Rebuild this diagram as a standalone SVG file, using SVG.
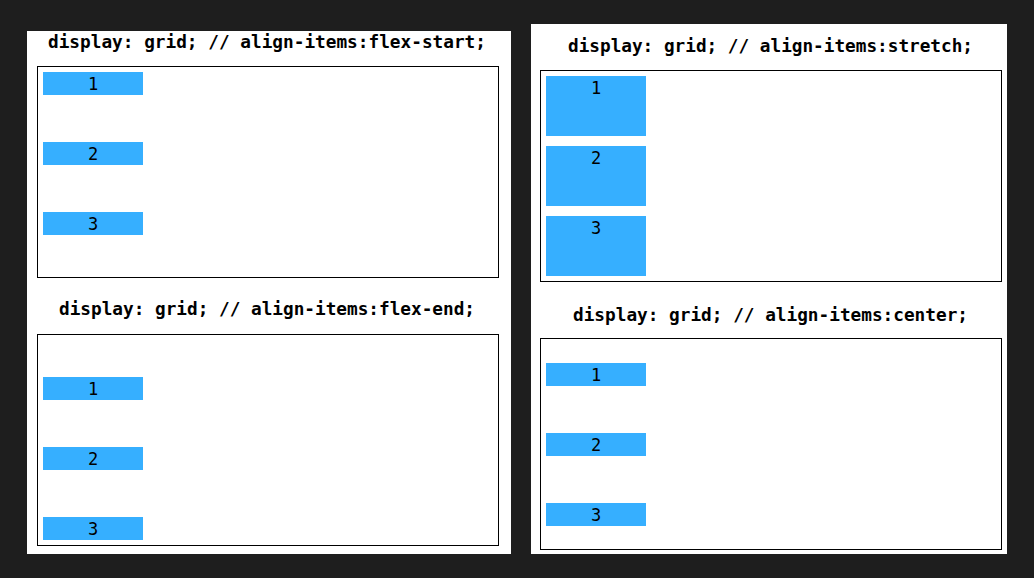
<svg xmlns="http://www.w3.org/2000/svg" width="1034" height="578" viewBox="0 0 1034 578">
<style>
.panel{fill:#ffffff}
.box{fill:#ffffff;stroke:#000000;stroke-width:1}
.item{fill:#36afff}
.title{font-family:"DejaVu Sans Mono","Liberation Mono",monospace;font-weight:bold;font-size:17.5px;fill:#000000;text-anchor:middle}
.num{font-family:"DejaVu Sans Mono","Liberation Mono",monospace;font-size:17px;fill:#000000;text-anchor:middle}
</style>
<rect x="0" y="0" width="1034" height="578" fill="#1e1e1e"/>
<rect class="panel" x="27" y="31" width="484" height="523"/>
<rect class="panel" x="531" y="24" width="476" height="530"/>

<g id="flex-start">
<text class="title" x="267" y="48" textLength="438" lengthAdjust="spacingAndGlyphs">display: grid; // align-items:flex-start;</text>
<rect class="box" x="37.5" y="66.5" width="461" height="211"/>
<rect class="item" x="43" y="72" width="100" height="23"/>
<text class="num" x="93" y="90">1</text>
<rect class="item" x="43" y="142" width="100" height="23"/>
<text class="num" x="93" y="160">2</text>
<rect class="item" x="43" y="212" width="100" height="23"/>
<text class="num" x="93" y="230">3</text>
</g>

<g id="flex-end">
<text class="title" x="267" y="315" textLength="416" lengthAdjust="spacingAndGlyphs">display: grid; // align-items:flex-end;</text>
<rect class="box" x="37.5" y="334.5" width="461" height="211"/>
<rect class="item" x="43" y="377" width="100" height="23"/>
<text class="num" x="93" y="395">1</text>
<rect class="item" x="43" y="447" width="100" height="23"/>
<text class="num" x="93" y="465">2</text>
<rect class="item" x="43" y="517" width="100" height="23"/>
<text class="num" x="93" y="535">3</text>
</g>

<g id="stretch">
<text class="title" x="770.5" y="52" textLength="405" lengthAdjust="spacingAndGlyphs">display: grid; // align-items:stretch;</text>
<rect class="box" x="540.5" y="70.5" width="461" height="211"/>
<rect class="item" x="546" y="76" width="100" height="60"/>
<text class="num" x="596" y="94">1</text>
<rect class="item" x="546" y="146" width="100" height="60"/>
<text class="num" x="596" y="164">2</text>
<rect class="item" x="546" y="216" width="100" height="60"/>
<text class="num" x="596" y="234">3</text>
</g>

<g id="center">
<text class="title" x="770.5" y="321" textLength="395" lengthAdjust="spacingAndGlyphs">display: grid; // align-items:center;</text>
<rect class="box" x="540.5" y="338.5" width="461" height="211"/>
<rect class="item" x="546" y="363" width="100" height="23"/>
<text class="num" x="596" y="381">1</text>
<rect class="item" x="546" y="433" width="100" height="23"/>
<text class="num" x="596" y="451">2</text>
<rect class="item" x="546" y="503" width="100" height="23"/>
<text class="num" x="596" y="521">3</text>
</g>

<g id="connectors"></g>
</svg>
